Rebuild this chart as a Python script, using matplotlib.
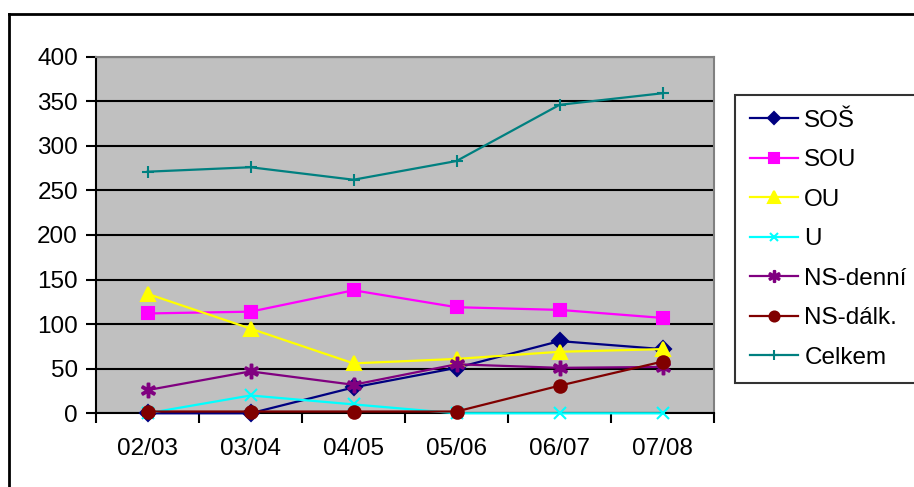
import matplotlib
matplotlib.use("Agg")
import matplotlib.pyplot as plt
from matplotlib.lines import Line2D

plt.rcParams['font.family'] = ['Liberation Sans', 'DejaVu Sans']

years = ["02/03", "03/04", "04/05", "05/06", "06/07", "07/08"]
sos = [0, 0, 29, 51, 81, 72]
sou = [112, 114, 138, 119, 116, 107]
ou = [134, 95, 56, 61, 69, 72]
u = [0, 20, 10, 0, 0, 0]
ns_denni = [26, 47, 32, 55, 51, 52]
ns_dalk = [2, 2, 2, 2, 31, 58]
celkem = [271, 276, 262, 283, 346, 359]

series = [
    ("SOŠ", sos, "#000080", "D", 8, "#000080"),
    ("SOU", sou, "#FF00FF", "s", 9, "#FF00FF"),
    ("OU", ou, "#FFFF00", "^", 10, "#FFFF00"),
    ("U", u, "#00FFFF", "x", 8, "#00FFFF"),
    ("NS-denní", ns_denni, "#800080", "$\u2217$", 10, "#800080"),
    ("NS-dálk.", ns_dalk, "#800000", "o", 9, "#800000"),
    ("Celkem", celkem, "#008080", "+", 9, "#008080"),
]

fig = plt.figure(figsize=(9.14, 4.87), dpi=100)
ax = fig.add_axes([96/914, 1-413.3/487, (714-96)/914, (413.3-56.7)/487])
ax.set_facecolor("#C0C0C0")

x = list(range(len(years)))
for name, vals, col, mk, ms, mc in series:
    ax.plot(x, vals, color=col, lw=1.6, marker=mk, ms=ms, mfc=mc, mec=mc,
            mew=1.5, label=name, clip_on=False, zorder=3)

ax.set_xlim(-0.5, len(years) - 0.5)
ax.set_ylim(0, 400)
ax.set_yticks(range(0, 401, 50))
ax.yaxis.grid(True, color="black", lw=1.5)
ax.set_axisbelow(True)

ax.set_xticks([i - 0.5 for i in range(len(years) + 1)])
ax.set_xticklabels([])
ax.set_xticks(x, minor=True)
ax.set_xticklabels(years, minor=True)
ax.tick_params(axis="x", which="minor", length=0, pad=18, labelsize=17.5)
ax.tick_params(axis="x", which="major", length=7, width=1.5, direction="out")
ax.tick_params(axis="y", length=7, width=1.5, labelsize=17.5, pad=6)

for s in ["top", "right"]:
    ax.spines[s].set_color("#808080")
    ax.spines[s].set_linewidth(1.5)
for s in ["left", "bottom"]:
    ax.spines[s].set_color("black")
    ax.spines[s].set_linewidth(1.5)

leg = fig.legend(loc="upper left", bbox_to_anchor=(735/914, 1-95/487),
                 fontsize=17.5, frameon=True, fancybox=False, handlelength=2.0,
                 handletextpad=0.25, labelspacing=0.72, borderpad=0.6,
                 borderaxespad=0, markerscale=0.8)
leg.get_frame().set_edgecolor("black")
leg.get_frame().set_linewidth(1.5)

# outer chart border (only left and top edges visible in the crop)
fig.add_artist(Line2D([9/914, 9/914], [0, 1-14/487], color="black", lw=2,
                      transform=fig.transFigure))
fig.add_artist(Line2D([9/914, 1], [1-14/487, 1-14/487], color="black", lw=2,
                      transform=fig.transFigure))

fig.savefig("out.png", dpi=100)
